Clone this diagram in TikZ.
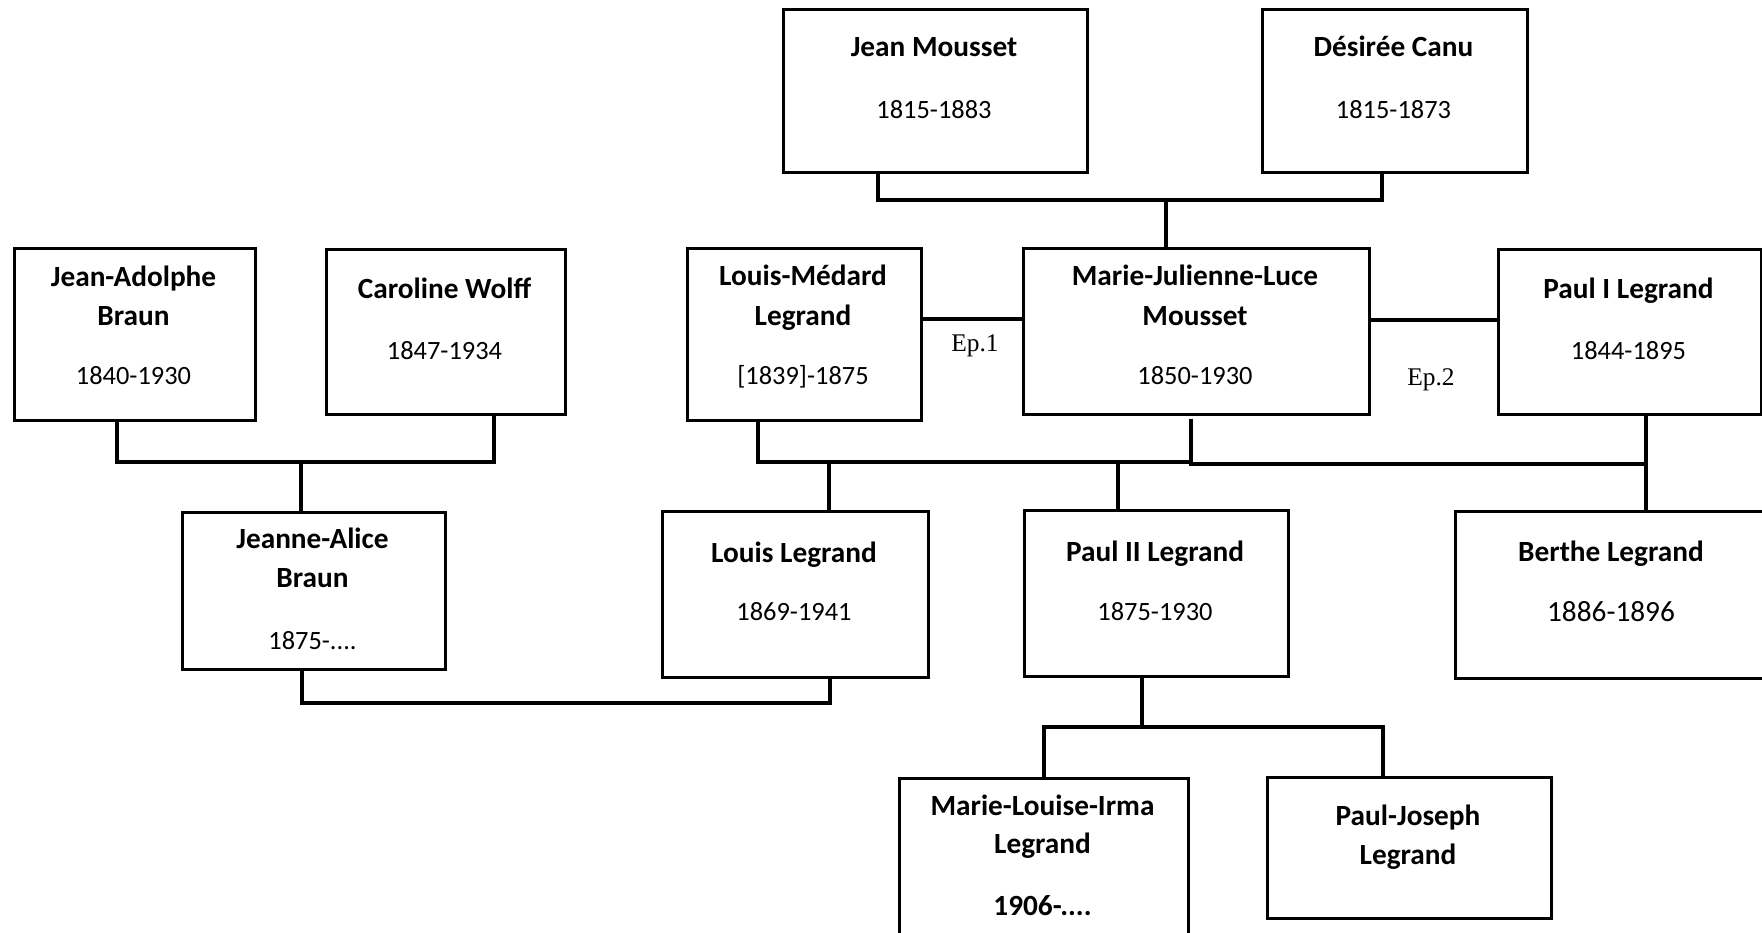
\documentclass[tikz,border=0pt]{standalone}
\usepackage{fontspec}
\setmainfont{Carlito}
\newfontfamily\epfont{Liberation Serif}
\tikzset{
  box/.style={draw=black, line width=2.6pt, anchor=north west, inner sep=0pt, fill=white},
  nm/.style={font=\fontsize{29.3}{36}\selectfont\bfseries, inner sep=0pt, text height=0.64em, text depth=0.2em, anchor=center, yshift=-6.5pt},
  dt/.style={font=\fontsize{26.4}{32}\selectfont, inner sep=0pt, text height=0.63em, text depth=0pt, anchor=center, yshift=-6pt},
  dtbig/.style={font=\fontsize{29.3}{36}\selectfont, inner sep=0pt, text height=0.63em, text depth=0pt, anchor=center, yshift=-6pt},
  dtbold/.style={font=\fontsize{29.3}{36}\selectfont\bfseries, inner sep=0pt, text height=0.63em, text depth=0pt, anchor=center, yshift=-6pt},
  ep/.style={font=\fontsize{25.4}{30}\selectfont\epfont, inner sep=0pt, text height=0.66em, text depth=0.22em, anchor=center, yshift=-7pt},
  link/.style={draw=black, line width=3.3pt, line cap=rect},
  marr/.style={draw=black, line width=4pt},
}
\begin{document}
\begin{tikzpicture}[x=1pt,y=-1pt]
\clip (0,0) rectangle (1762,933);
% boxes
\node[box, minimum width=304pt, minimum height=163pt] (jm) at (782,8) {};
\node[box, minimum width=265pt, minimum height=163pt] (dc) at (1261,8) {};
\node[box, minimum width=241pt, minimum height=172pt] (ja) at (13,247) {};
\node[box, minimum width=239pt, minimum height=165pt] (cw) at (325,248) {};
\node[box, minimum width=234pt, minimum height=172pt] (lm) at (686,247) {};
\node[box, minimum width=346pt, minimum height=166pt] (mjl) at (1022,247) {};
\node[box, minimum width=263pt, minimum height=165pt] (pi) at (1497,248) {};
\node[box, minimum width=263pt, minimum height=157pt] (jal) at (181,511) {};
\node[box, minimum width=266pt, minimum height=166pt] (ll) at (661,510) {};
\node[box, minimum width=264pt, minimum height=166pt] (p2) at (1023,509) {};
\node[box, minimum width=314pt, minimum height=167pt] (be) at (1454,510) {};
\node[box, minimum width=289pt, minimum height=175pt] (mli) at (898,777) {};
\node[box, minimum width=284pt, minimum height=141pt] (pj) at (1266,776) {};
% texts
\node[nm] (jm-n) at (934,48) {Jean Mousset};
\node[dt] (jm-d) at (934,109) {1815-1883};
\node[nm] (dc-n) at (1393.5,48) {Désirée Canu};
\node[dt] (dc-d) at (1393.5,109) {1815-1873};
\node[nm] (ja-n1) at (133.5,278) {Jean-Adolphe};
\node[nm] (ja-n2) at (133.5,317) {Braun};
\node[dt] (ja-d) at (133.5,375) {1840-1930};
\node[nm] (cw-n) at (444.5,290) {Caroline Wolff};
\node[dt] (cw-d) at (444.5,350) {1847-1934};
\node[nm] (lm-n1) at (803,277) {Louis-Médard};
\node[nm] (lm-n2) at (803,317) {Legrand};
\node[dt] (lm-d) at (803,375) {[1839]-1875};
\node[nm] (mjl-n1) at (1195,277) {Marie-Julienne-Luce};
\node[nm] (mjl-n2) at (1195,317) {Mousset};
\node[dt] (mjl-d) at (1195,375) {1850-1930};
\node[nm] (pi-n) at (1628.5,290) {Paul I Legrand};
\node[dt] (pi-d) at (1628.5,350) {1844-1895};
\node[nm] (jal-n1) at (312.5,540) {Jeanne-Alice};
\node[nm] (jal-n2) at (312.5,579) {Braun};
\node[dt] (jal-d) at (312.5,640) {1875-....};
\node[nm] (ll-n) at (794,554) {Louis Legrand};
\node[dt] (ll-d) at (794,611) {1869-1941};
\node[nm] (p2-n) at (1155,553) {Paul II Legrand};
\node[dt] (p2-d) at (1155,611) {1875-1930};
\node[nm] (be-n) at (1611,553) {Berthe Legrand};
\node[dtbig] (be-d) at (1611,612) {1886-1896};
\node[nm] (mli-n1) at (1042.5,807) {Marie-Louise-Irma};
\node[nm] (mli-n2) at (1042.5,845) {Legrand};
\node[dtbold] (mli-d) at (1042.5,906) {1906-....};
\node[nm] (pj-n1) at (1408,817) {Paul-Joseph};
\node[nm] (pj-n2) at (1408,856) {Legrand};
\node[ep] (ep1) at (975,342) {Ep.1};
\node[ep] (ep2) at (1431,376) {Ep.2};
% connectors
\coordinate (m1) at (1166,200);
\draw[link] (jm.south -| 878,0) |- (m1) -| (dc.south -| 1382,0);
\draw[link] (m1) -- (m1 |- mjl.north);
\draw[marr] (lm.east |- 0,319) -- (mjl.west |- 0,319);
\draw[marr] (mjl.east |- 0,320) -- (pi.west |- 0,320);
\coordinate (m2) at (301,462);
\draw[link] (ja.south -| 117,0) |- (m2) -| (cw.south -| 494,0);
\draw[link] (m2) -- (m2 |- jal.north);
\coordinate (m3) at (829,462);
\coordinate (m4) at (1118,462);
\coordinate (m5) at (1191,462);
\draw[link] (lm.south -| 758,0) |- (m5);
\coordinate (m5t) at (1191,421);
\draw[link] (m5t) -- (1191,464) -| (pi.south -| 1646,0);
\draw[link] (1646,464) -- (be.north -| 1646,0);
\draw[link] (m3) -- (m3 |- ll.north);
\draw[link] (m4) -- (m4 |- p2.north);
\coordinate (m7) at (302,703);
\coordinate (m8) at (830,703);
\draw[link] (jal.south -| m7) -- (m7) -- (m8) -- (ll.south -| m8);
\coordinate (m6) at (1142,727);
\draw[link] (p2.south -| m6) -- (m6);
\draw[link] (mli.north -| 1044,0) |- (1383,727) -- (pj.north -| 1383,0);
\end{tikzpicture}
\end{document}
